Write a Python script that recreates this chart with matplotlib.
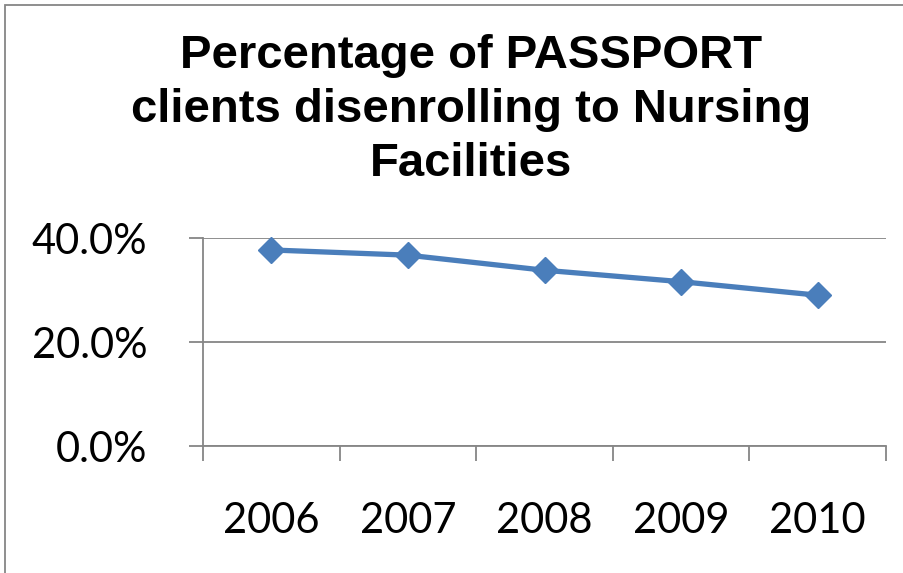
import matplotlib.pyplot as plt
from matplotlib.patches import Rectangle
from matplotlib.ticker import FuncFormatter

years = ['2006', '2007', '2008', '2009', '2010']
pct = [0.377, 0.367, 0.338, 0.316, 0.290]
title = 'Percentage of PASSPORT\nclients disenrolling to Nursing\nFacilities'

grey = '#868686'
blue = '#4A7EBB'

fig = plt.figure(figsize=(9.04, 5.73), dpi=100)
ax = fig.add_axes([203 / 904, 1 - 446 / 573, (886 - 203) / 904, (446 - 238) / 573])

xs = list(range(len(years)))
ax.plot(xs, pct, color=blue, lw=3.8, marker='D', ms=13, mec=blue, mfc=blue, clip_on=False)

ax.set_xlim(-0.5, len(years) - 0.5)
ax.set_ylim(0, 0.4)
ax.set_yticks([0, 0.2, 0.4])
ax.yaxis.set_major_formatter(FuncFormatter(lambda v, p: f'{v * 100:.1f}%'))
ax.yaxis.grid(True, color=grey, lw=1.3)
ax.set_axisbelow(True)

ax.set_xticks([i - 0.5 for i in range(len(years) + 1)])
ax.set_xticklabels([])
ax.set_xticks(xs, minor=True)
ax.set_xticklabels(years, minor=True)
ax.tick_params(axis='x', which='major', direction='out', length=11, color=grey, width=1.3)
ax.tick_params(axis='x', which='minor', length=0, pad=40, labelsize=30)
ax.tick_params(axis='y', direction='out', length=10, color=grey, width=1.3, pad=30, labelsize=30)
for lbl in ax.get_xticklabels(minor=True) + ax.get_yticklabels():
    lbl.set_fontfamily('Lato')

for s in ['top', 'right']:
    ax.spines[s].set_visible(False)
for s in ['left', 'bottom']:
    ax.spines[s].set_color(grey)
    ax.spines[s].set_linewidth(1.3)

fig.text(471 / 904, 1 - 110 / 573, title, ha='center', va='center', fontsize=34,
         fontweight='bold', family='Liberation Sans', linespacing=1.3)

fig.patches.append(Rectangle((5 / 904, -0.1), 1.2, 1 - 5 / 573 + 0.1, transform=fig.transFigure,
                             fill=False, edgecolor=grey, lw=1.3))

fig.savefig('out.png', dpi=100)
